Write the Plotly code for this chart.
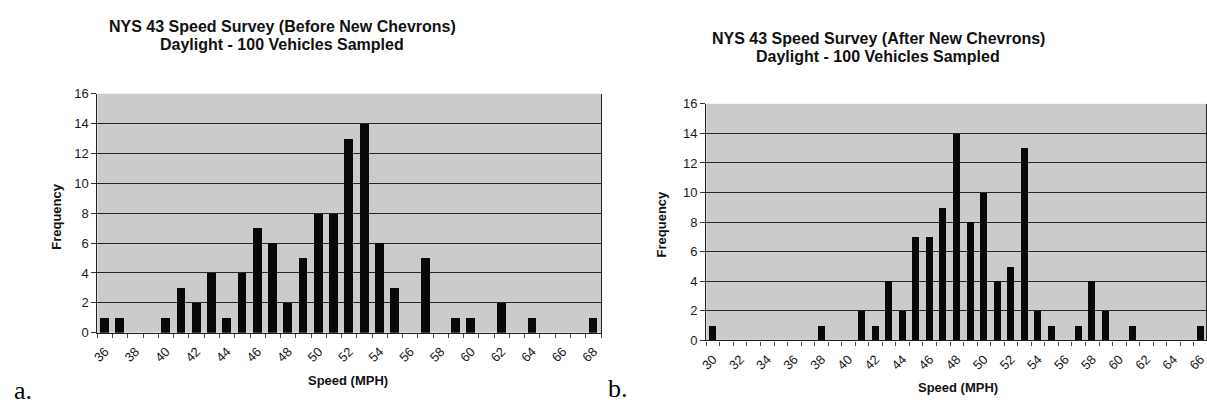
import plotly.graph_objects as go

# ---- data ----
speeds_a = list(range(36, 69))
freq_a = [1, 1, 0, 0, 1, 3, 2, 4, 1, 4, 7, 6, 2, 5, 8, 8, 13, 14, 6, 3, 0, 5, 0, 1, 1, 0, 2, 0, 1, 0, 0, 0, 1]
speeds_b = list(range(30, 67))
freq_b = [1, 0, 0, 0, 0, 0, 0, 0, 1, 0, 0, 2, 1, 4, 2, 7, 7, 9, 14, 8, 10, 4, 5, 13, 2, 1, 0, 1, 4, 2, 0, 1, 0, 0, 0, 0, 1]
ticks_a = list(range(36, 69, 2))
ticks_b = list(range(30, 67, 2))
yticks = list(range(0, 17, 2))
title_a = ["NYS 43 Speed Survey (Before New Chevrons)", "Daylight - 100 Vehicles Sampled"]
title_b = ["NYS 43 Speed Survey (After New Chevrons)", "Daylight - 100 Vehicles Sampled"]

W, H = 1207, 413
FONT = "Liberation Sans, Arial, sans-serif"
SERIF = "Liberation Serif, Times New Roman, serif"
BG = "#cbcbcb"
GRID = "#262626"

fig = go.Figure()
fig.add_trace(go.Bar(x=speeds_a, y=freq_a, width=0.58, marker=dict(color="#080808", line=dict(width=0)),
                     xaxis="x", yaxis="y", showlegend=False))
fig.add_trace(go.Bar(x=speeds_b, y=freq_b, width=0.52, marker=dict(color="#080808", line=dict(width=0)),
                     xaxis="x2", yaxis="y2", showlegend=False))

def px_x(p):
    return p / W

def px_y(p):
    return 1 - p / H

common_x = dict(
    tickmode="array", tickangle=-45, ticks="", showgrid=False, zeroline=False,
    showline=True, linecolor="#222", linewidth=1.3,
    tickfont=dict(family=FONT, size=13, color="#1a1a1a"),
    ticklabelstandoff=5, ticklabeloverflow="allow",
    minor=dict(ticks="outside", ticklen=4, tickcolor="#444", dtick=1, showgrid=False),
)
common_y = dict(
    tickmode="array", tickvals=yticks, range=[0, 16], showgrid=True, gridcolor=GRID, gridwidth=1.4,
    zeroline=False, showline=True, linecolor="#222", linewidth=1.3, mirror=True,
    ticks="outside", ticklen=5, tickcolor="#333",
    tickfont=dict(family=FONT, size=13, color="#1a1a1a"),
)

fig.update_layout(
    width=W, height=H,
    margin=dict(l=0, r=0, t=0, b=0),
    paper_bgcolor="white", plot_bgcolor=BG,
    bargap=0,
    xaxis=dict(common_x, domain=[px_x(91), px_x(598)], range=[35.5, 68.5], tickvals=ticks_a,
               minor=dict(common_x["minor"], tick0=35.5), anchor="y"),
    yaxis=dict(common_y, domain=[px_y(338), px_y(90)], anchor="x"),
    xaxis2=dict(common_x, domain=[px_x(704), 1.0], range=[29.5, 66.4], tickvals=ticks_b,
                minor=dict(common_x["minor"], tick0=29.5), anchor="y2"),
    yaxis2=dict(common_y, domain=[px_y(346), px_y(100.5)], anchor="x2"),
)

ann = []
def add_text(text, x, y, size, bold=False, angle=0, family=FONT, color="#111"):
    ann.append(dict(text=("<b>%s</b>" % text) if bold else text, x=px_x(x), y=px_y(y),
                    xref="paper", yref="paper", showarrow=False, textangle=angle,
                    xanchor="center", yanchor="middle",
                    font=dict(family=family, size=size, color=color)))

add_text(title_a[0], 277, 20, 16, bold=True)
add_text(title_a[1], 277, 39, 16, bold=True)
add_text(title_b[0], 877, 33, 16, bold=True)
add_text(title_b[1], 877, 51, 16, bold=True)
add_text("Frequency", 49, 217, 13, bold=True, angle=-90)
add_text("Frequency", 659, 225, 13, bold=True, angle=-90)
add_text("Speed (MPH)", 343, 388, 13, bold=True)
add_text("Speed (MPH)", 957, 395, 13, bold=True)
add_text("a.", 16, 398, 26, family=SERIF, color="#000")
add_text("b.", 615, 396, 26, family=SERIF, color="#000")
fig.update_layout(annotations=ann)

fig.write_html("out.html")
